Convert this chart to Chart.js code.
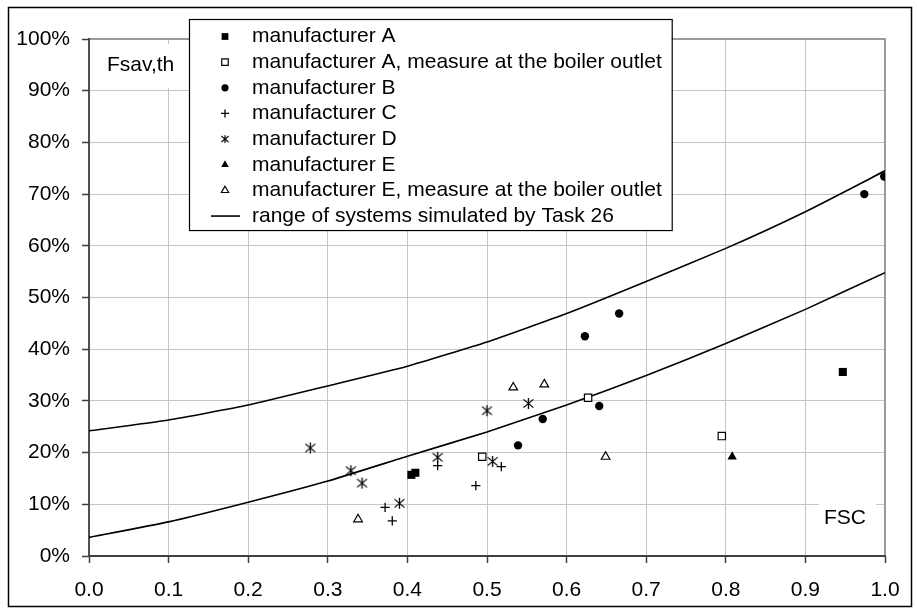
<!DOCTYPE html>
<html>
<head>
<meta charset="utf-8">
<title>Fsav,th vs FSC</title>
<script src="https://cdn.jsdelivr.net/npm/chart.js@4.4.1/dist/chart.umd.min.js"></script>
<style>
  body { margin: 0; background: #fff; }
  #wrap { width: 917px; height: 608px; }
</style>
</head>
<body>
<div id="wrap"><canvas id="fsavChart" width="917" height="608"></canvas></div>
<script>
// axis ticks: FSC (x) and Fsav,th in percent (y)
const xTicks = [0, 0.1, 0.2, 0.3, 0.4, 0.5, 0.6, 0.7, 0.8, 0.9, 1.0];
const yTicks = [0, 10, 20, 30, 40, 50, 60, 70, 80, 90, 100];

const seriesNames = [
  'manufacturer A',
  'manufacturer A, measure at the boiler outlet',
  'manufacturer B',
  'manufacturer C',
  'manufacturer D',
  'manufacturer E',
  'manufacturer E, measure at the boiler outlet',
  'range of systems simulated by Task 26'
];

const mfrA_fsc = [0.405, 0.410, 0.947];
const mfrA_fsav = [15.7, 16.1, 35.6];
const mfrAOut_fsc = [0.494, 0.627, 0.795];
const mfrAOut_fsav = [19.2, 30.6, 23.2];
const mfrB_fsc = [0.539, 0.570, 0.623, 0.641, 0.666, 0.974, 0.999];
const mfrB_fsav = [21.4, 26.5, 42.5, 29.0, 46.9, 70.0, 73.4];
const mfrC_fsc = [0.372, 0.381, 0.438, 0.486, 0.518];
const mfrC_fsav = [9.4, 6.8, 17.5, 13.6, 17.3];
const mfrD_fsc = [0.278, 0.329, 0.343, 0.390, 0.438, 0.500, 0.507, 0.552];
const mfrD_fsav = [20.9, 16.5, 14.1, 10.2, 19.1, 28.1, 18.3, 29.5];
const mfrE_fsc = [0.808];
const mfrE_fsav = [19.2];
const mfrEOut_fsc = [0.338, 0.533, 0.572, 0.649];
const mfrEOut_fsav = [7.1, 32.6, 33.2, 19.2];

// Task 26 simulated range, upper and lower bound
const task26_fsc = [0, 0.1, 0.2, 0.3, 0.4, 0.5, 0.6, 0.7, 0.8, 0.9, 1.0];
const task26_upper = [24.2, 26.3, 29.2, 32.9, 36.7, 41.4, 46.9, 53.1, 59.5, 66.6, 74.5];
const task26_lower = [3.6, 6.6, 10.4, 14.5, 19.3, 24.0, 29.2, 34.9, 41.1, 47.7, 54.8];

const FONT = "'Liberation Sans', Arial, sans-serif";

function pts(xs, ys) {
  return xs.map((x, i) => ({ x: x, y: ys[i] }));
}

// six-armed asterisk marker (X plus vertical bar)
function asterisk(size, lw) {
  const c = document.createElement('canvas');
  c.width = c.height = size;
  const g = c.getContext('2d');
  const m = size / 2, r = size / 2 - 1;
  g.strokeStyle = '#000';
  g.lineWidth = lw;
  g.beginPath();
  g.moveTo(m, m - r); g.lineTo(m, m + r);
  g.moveTo(m - r * 0.9, m - r * 0.75); g.lineTo(m + r * 0.9, m + r * 0.75);
  g.moveTo(m - r * 0.9, m + r * 0.75); g.lineTo(m + r * 0.9, m - r * 0.75);
  g.stroke();
  return c;
}

const markers = [
  { pointStyle: 'rect', radius: 5.7, fill: '#000', border: 0, legendRadius: 4.8 },
  { pointStyle: 'rect', radius: 5.2, fill: '#fff', border: 1.2, legendRadius: 4.6 },
  { pointStyle: 'circle', radius: 4.2, fill: '#000', border: 0, legendRadius: 3.6 },
  { pointStyle: 'cross', radius: 4.6, fill: '#000', border: 1.3, legendRadius: 4 },
  { pointStyle: asterisk(13, 1.3), radius: 6, fill: '#000', border: 0, legendStyle: asterisk(10, 1.1), legendRadius: 5 },
  { pointStyle: 'triangle', radius: 5.4, fill: '#000', border: 0, legendRadius: 4.4 },
  { pointStyle: 'triangle', radius: 5.0, fill: '#fff', border: 1.2, legendRadius: 4.2 }
];

const pointSeries = [
  pts(mfrA_fsc, mfrA_fsav),
  pts(mfrAOut_fsc, mfrAOut_fsav),
  pts(mfrB_fsc, mfrB_fsav),
  pts(mfrC_fsc, mfrC_fsav),
  pts(mfrD_fsc, mfrD_fsav),
  pts(mfrE_fsc, mfrE_fsav),
  pts(mfrEOut_fsc, mfrEOut_fsav)
];

const datasets = pointSeries.map((data, i) => ({
  label: seriesNames[i],
  data: data,
  showLine: false,
  pointStyle: markers[i].pointStyle,
  pointRadius: markers[i].radius,
  pointBackgroundColor: markers[i].fill,
  pointBorderColor: '#000',
  pointBorderWidth: markers[i].border,
  order: 1
}));

[task26_upper, task26_lower].forEach(ys => {
  datasets.push({
    label: seriesNames[7],
    data: pts(task26_fsc, ys),
    showLine: true,
    borderColor: '#000',
    borderWidth: 1.6,
    pointRadius: 0,
    tension: 0.15,
    order: 10
  });
});

// plot frame, axis captions with white backing, chart border and boxed legend
const decor = {
  id: 'decor',
  beforeDraw(chart) {
    const ctx = chart.ctx;
    ctx.save();
    ctx.fillStyle = '#fff';
    ctx.fillRect(0, 0, chart.width, chart.height);
    ctx.restore();
  },
  beforeDatasetsDraw(chart) {
    const { ctx, chartArea: a } = chart;
    ctx.save();
    ctx.strokeStyle = '#9a9a9a';
    ctx.lineWidth = 2;
    ctx.beginPath();
    ctx.moveTo(a.left, a.top);
    ctx.lineTo(a.right, a.top);
    ctx.lineTo(a.right, a.bottom);
    ctx.stroke();
    ctx.strokeStyle = '#404040';
    ctx.lineWidth = 1.8;
    ctx.beginPath();
    ctx.moveTo(a.left, a.top - 1);
    ctx.lineTo(a.left, a.bottom);
    ctx.lineTo(a.right + 1, a.bottom);
    ctx.stroke();

    ctx.fillStyle = '#fff';
    ctx.fillRect(99, 44, 88, 44);
    ctx.fillRect(819, 500, 57, 36);
    ctx.fillStyle = '#000';
    ctx.font = '21px ' + FONT;
    ctx.textBaseline = 'middle';
    ctx.textAlign = 'left';
    ctx.fillText('Fsav,th', 107, 65);
    ctx.fillText('FSC', 824, 518);
    ctx.restore();
  },
  afterDraw(chart) {
    const ctx = chart.ctx;
    const H = Chart.helpers;
    ctx.save();
    ctx.strokeStyle = '#000';
    ctx.lineWidth = 1.5;
    ctx.strokeRect(8.5, 7.5, 903, 599);

    ctx.font = '21px ' + FONT;
    const textX = 252, markX = 225, top = 19, rowY0 = 36.5, rowH = 25.65;
    const widest = Math.max(...seriesNames.map(s => ctx.measureText(s).width));
    const boxW = textX + widest + 10 - 189;
    const boxH = rowY0 + rowH * 7 + 14 - top;
    ctx.fillStyle = '#fff';
    ctx.fillRect(189, top, boxW, boxH);
    ctx.lineWidth = 1.2;
    ctx.strokeRect(189.5, top + 0.5, boxW, boxH);

    seriesNames.forEach((name, i) => {
      const y = rowY0 + i * rowH;
      if (i < markers.length) {
        const mk = markers[i];
        ctx.fillStyle = mk.fill;
        ctx.strokeStyle = '#000';
        ctx.lineWidth = mk.border || 1;
        H.drawPoint(ctx, {
          pointStyle: mk.legendStyle || mk.pointStyle,
          radius: mk.legendRadius,
          borderWidth: mk.border,
          rotation: 0
        }, markX, y);
      } else {
        ctx.strokeStyle = '#000';
        ctx.lineWidth = 1.6;
        ctx.beginPath();
        ctx.moveTo(211, y);
        ctx.lineTo(240, y);
        ctx.stroke();
      }
      ctx.fillStyle = '#000';
      ctx.textAlign = 'left';
      ctx.textBaseline = 'middle';
      ctx.fillText(name, textX, y);
    });
    ctx.restore();
  }
};

const tickFont = { family: FONT, size: 21 };

new Chart(document.getElementById('fsavChart'), {
  type: 'scatter',
  data: { datasets: datasets },
  options: {
    responsive: false,
    animation: false,
    layout: { padding: { left: 0, top: 39, right: 32, bottom: 0 } },
    plugins: { legend: { display: false }, tooltip: { enabled: false } },
    scales: {
      x: {
        type: 'linear',
        min: 0,
        max: 1,
        afterBuildTicks: s => { s.ticks = xTicks.map(v => ({ value: v })); },
        afterFit: s => { s.height = 52; },
        border: { display: false },
        grid: { color: '#c6c6c6', lineWidth: 1, tickLength: 7, tickColor: '#404040', tickWidth: 1.5 },
        ticks: {
          font: tickFont,
          color: '#000',
          padding: 15,
          maxRotation: 0,
          autoSkip: false,
          callback: v => Number(v).toFixed(1)
        }
      },
      y: {
        type: 'linear',
        min: 0,
        max: 100,
        afterBuildTicks: s => { s.ticks = yTicks.map(v => ({ value: v })); },
        afterFit: s => { s.width = 89; },
        border: { display: false },
        grid: { color: '#c6c6c6', lineWidth: 1, tickLength: 7, tickColor: '#404040', tickWidth: 1.5 },
        ticks: {
          font: tickFont,
          color: '#000',
          padding: 12,
          autoSkip: false,
          callback: v => v + '%'
        }
      }
    }
  },
  plugins: [decor]
});
</script>
</body>
</html>
